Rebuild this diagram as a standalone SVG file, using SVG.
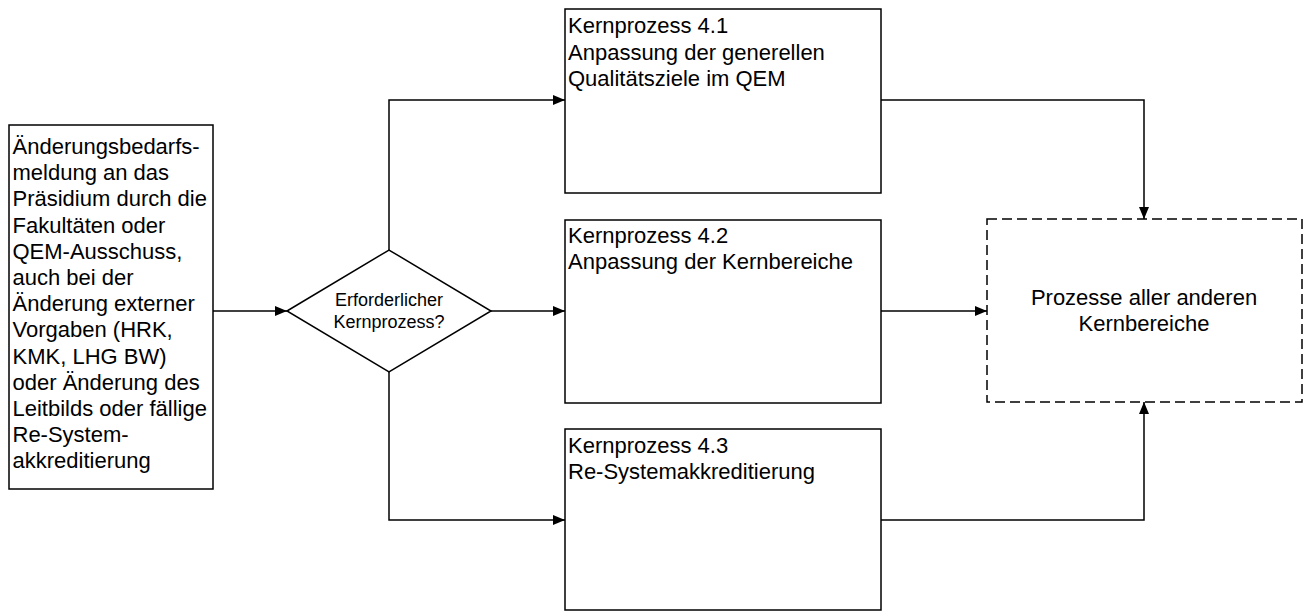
<svg xmlns="http://www.w3.org/2000/svg" width="1306" height="613" viewBox="0 0 1306 613">
<defs>
<style>
.box{fill:#fff;stroke:#000;stroke-width:1.5}
.dash{fill:#fff;stroke:#000;stroke-width:1.5;stroke-dasharray:10,5}
.t{font-family:"Liberation Sans",Arial,sans-serif;font-size:22px;fill:#000}
.c{text-anchor:middle}
.s{font-size:18px}
.ln{fill:none;stroke:#000;stroke-width:1.5}
</style>
<marker id="ah" markerWidth="12" markerHeight="10" refX="12" refY="5" orient="auto" markerUnits="userSpaceOnUse">
<path d="M0,0 L12,5 L0,10 Z" fill="#000"/>
</marker>
</defs>
<rect width="1306" height="613" fill="#fff"/>
<g id="connectors">
<path class="ln" d="M213,311 H287" marker-end="url(#ah)"/>
<path class="ln" d="M389,250 V100 H565" marker-end="url(#ah)"/>
<path class="ln" d="M491,311 H565" marker-end="url(#ah)"/>
<path class="ln" d="M389,372 V520 H565" marker-end="url(#ah)"/>
<path class="ln" d="M881,100 H1144 V219" marker-end="url(#ah)"/>
<path class="ln" d="M881,311 H987" marker-end="url(#ah)"/>
<path class="ln" d="M881,520 H1144 V402" marker-end="url(#ah)"/>
</g>
<g id="start">
<rect class="box" x="9" y="125" width="204" height="364"/>
<text class="t">
<tspan x="12.5" y="154">Änderungsbedarfs-</tspan>
<tspan x="12.5" y="180.2">meldung an das</tspan>
<tspan x="12.5" y="206.4">Präsidium durch die</tspan>
<tspan x="12.5" y="232.6">Fakultäten oder</tspan>
<tspan x="12.5" y="258.8">QEM-Ausschuss,</tspan>
<tspan x="12.5" y="285">auch bei der</tspan>
<tspan x="12.5" y="311.2">Änderung externer</tspan>
<tspan x="12.5" y="337.4">Vorgaben (HRK,</tspan>
<tspan x="12.5" y="363.6">KMK, LHG BW)</tspan>
<tspan x="12.5" y="389.8">oder Änderung des</tspan>
<tspan x="12.5" y="416">Leitbilds oder fällige</tspan>
<tspan x="12.5" y="442.2">Re-System-</tspan>
<tspan x="12.5" y="468.4">akkreditierung</tspan>
</text>
</g>
<g id="decision">
<polygon class="box" points="287,311 389,250 491,311 389,372"/>
<text class="t s c"><tspan x="389" y="306">Erforderlicher</tspan><tspan x="389" y="327.5">Kernprozess?</tspan></text>
</g>
<g id="kp41">
<rect class="box" x="565" y="9" width="316" height="184"/>
<text class="t"><tspan x="568" y="33">Kernprozess 4.1</tspan><tspan x="568" y="59.7">Anpassung der generellen</tspan><tspan x="568" y="86.4">Qualitätsziele im QEM</tspan></text>
</g>
<g id="kp42">
<rect class="box" x="565" y="220" width="316" height="183"/>
<text class="t"><tspan x="568" y="242.5">Kernprozess 4.2</tspan><tspan x="568" y="269">Anpassung der Kernbereiche</tspan></text>
</g>
<g id="kp43">
<rect class="box" x="565" y="429" width="316" height="181"/>
<text class="t"><tspan x="568" y="452.5">Kernprozess 4.3</tspan><tspan x="568" y="479">Re-Systemakkreditierung</tspan></text>
</g>
<g id="others">
<rect class="dash" x="987" y="219" width="315" height="183"/>
<text class="t c"><tspan x="1144" y="305">Prozesse aller anderen</tspan><tspan x="1144" y="331">Kernbereiche</tspan></text>
</g>
</svg>
